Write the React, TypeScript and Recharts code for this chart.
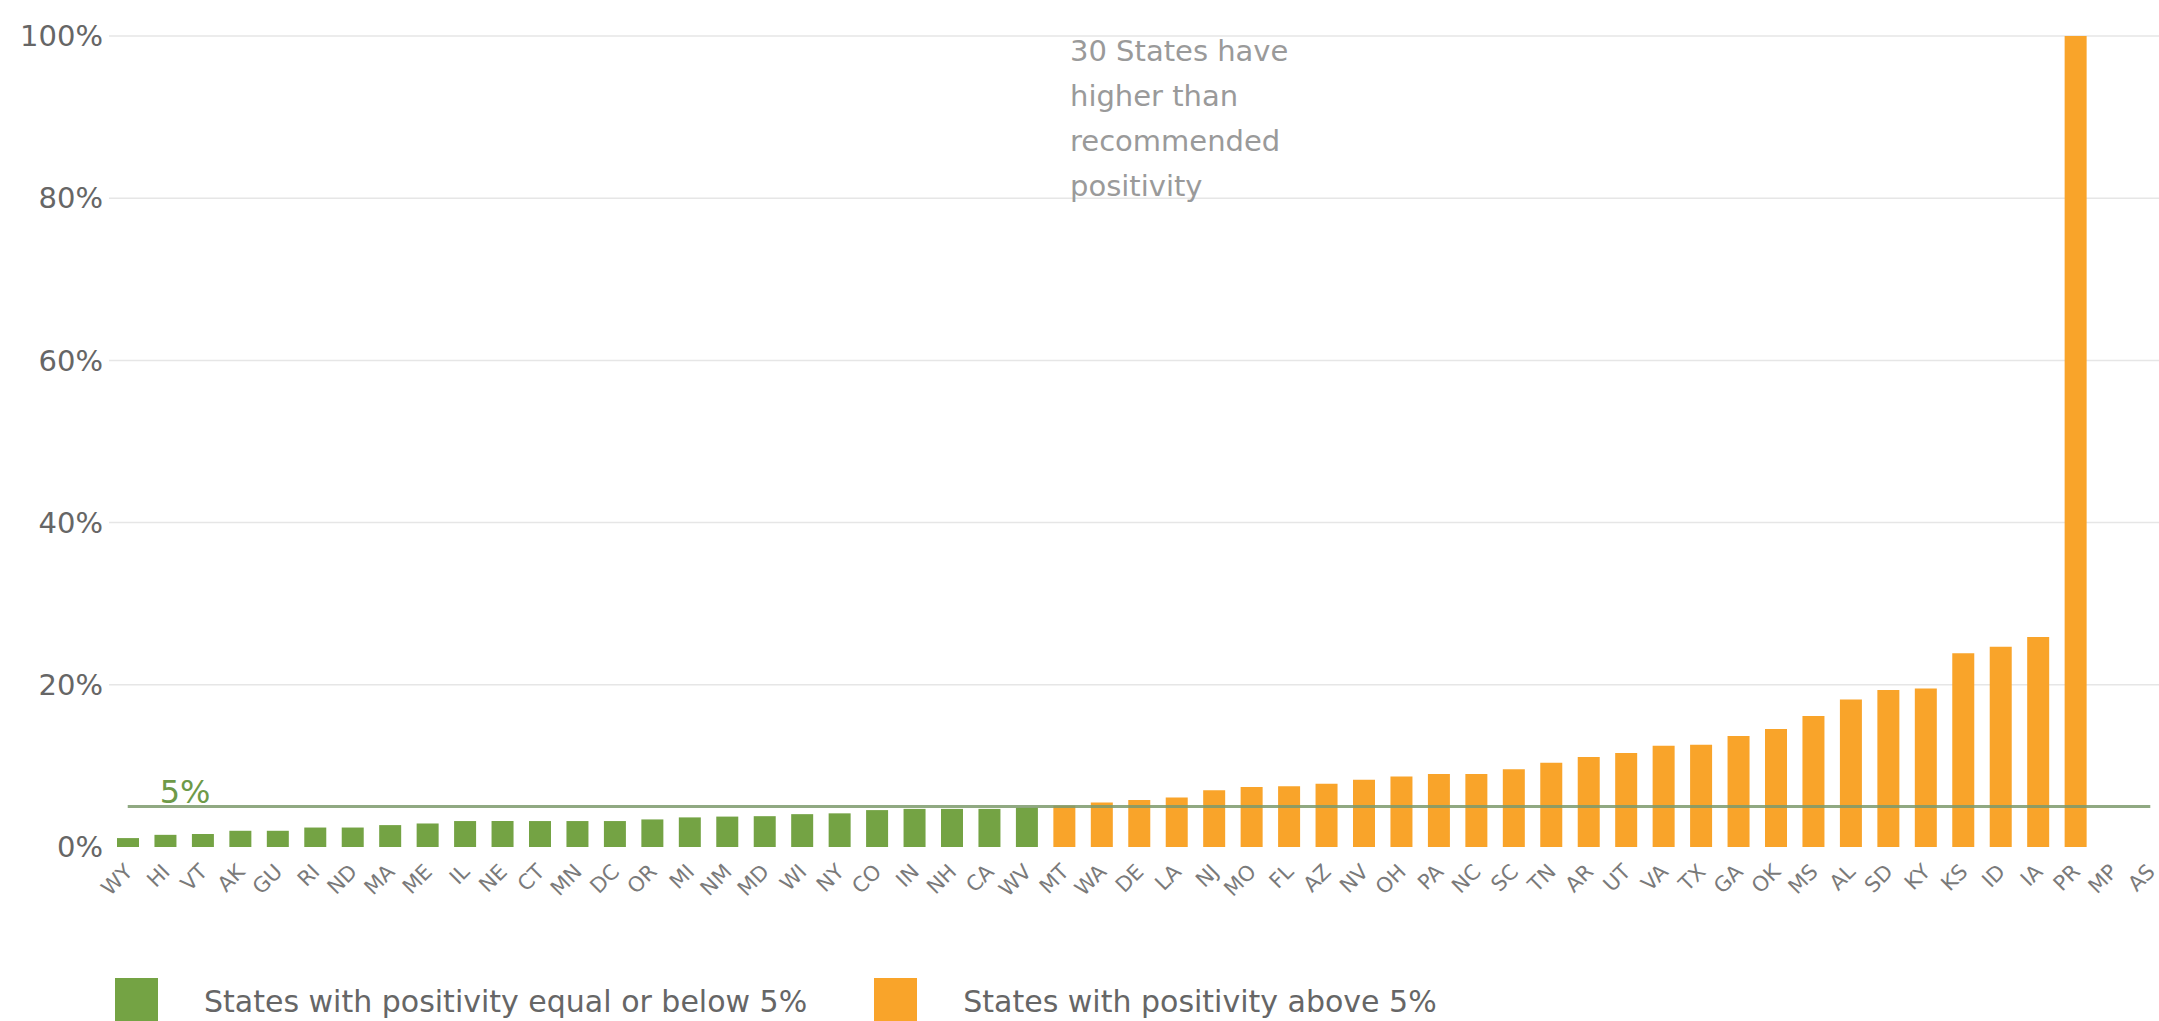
import { BarChart, Bar, XAxis, YAxis, CartesianGrid, ReferenceLine, Legend, Customized } from "recharts";

const STATES = [
  "WY", "HI", "VT", "AK", "GU", "RI", "ND", "MA", "ME", "IL", "NE", "CT", "MN", "DC",
  "OR", "MI", "NM", "MD", "WI", "NY", "CO", "IN", "NH", "CA", "WV", "MT", "WA", "DE",
  "LA", "NJ", "MO", "FL", "AZ", "NV", "OH", "PA", "NC", "SC", "TN", "AR", "UT", "VA",
  "TX", "GA", "OK", "MS", "AL", "SD", "KY", "KS", "ID", "IA", "PR", "MP", "AS",
];

// test positivity in % (MP and AS have no bar)
const POSITIVITY: (number | null)[] = [
  1.1, 1.5, 1.6, 2.0, 2.0, 2.4, 2.4, 2.7, 2.9, 3.2, 3.2, 3.2, 3.2, 3.2,
  3.4, 3.65, 3.75, 3.8, 4.05, 4.15, 4.55, 4.7, 4.7, 4.7, 4.85, 5.1, 5.5, 5.8,
  6.1, 7.0, 7.4, 7.5, 7.8, 8.3, 8.7, 9.0, 9.0, 9.6, 10.4, 11.1, 11.6, 12.5,
  12.6, 13.7, 14.55, 16.15, 18.2, 19.35, 19.55, 23.9, 24.7, 25.9, 100, null, null,
];

const Y_TICKS = [0, 20, 40, 60, 80, 100];
const THRESHOLD = 5;
const NOTE_LINES = ["30 States have", "higher than", "recommended", "positivity"];
const SERIES_ORDER = ["low", "high"];

const GREEN = "#74a344";
const ORANGE = "#f9a42a";
const FONT = "DejaVu Sans";

const data = STATES.map((state, i) => {
  const v = POSITIVITY[i];
  return {
    state,
    low: v != null && v <= THRESHOLD ? v : null,
    high: v != null && v > THRESHOLD ? v : null,
  };
});

const StateTick = (props: any) => {
  const { x, y, payload } = props;
  const ax = x + 6;
  const ay = y + 18;
  return (
    <text
      x={ax}
      y={ay}
      transform={`rotate(-45 ${ax} ${ay})`}
      textAnchor="end"
      fontFamily={FONT}
      fontSize={21}
      fill="#7a7a7a"
    >
      {payload.value}
    </text>
  );
};

const LegendBox = (props: any) => {
  const items = [...(props.payload || [])].sort(
    (a: any, b: any) => SERIES_ORDER.indexOf(a.dataKey) - SERIES_ORDER.indexOf(b.dataKey)
  );
  return (
    <div style={{ display: "flex", alignItems: "center", fontFamily: FONT, fontSize: 30, color: "#666" }}>
      {items.map((it: any, i: number) => (
        <div key={i} style={{ display: "flex", alignItems: "center", marginLeft: i === 0 ? 115 : 67 }}>
          <span style={{ display: "inline-block", width: 43, height: 46, background: it.color }} />
          <span style={{ marginLeft: 46 }}>{it.value}</span>
        </div>
      ))}
    </div>
  );
};

const Note = () => (
  <text x={1070} y={61} fontFamily={FONT} fontSize={29} fill="#9a9a9a">
    {NOTE_LINES.map((line, i) => (
      <tspan key={i} x={1070} dy={i === 0 ? 0 : 45}>
        {line}
      </tspan>
    ))}
  </text>
);

export default function App() {
  return (
    <div style={{ position: "absolute", left: 0, top: 0, width: 2159, height: 1021, overflow: "hidden", background: "#fff" }}>
      <BarChart width={2169} height={1021} data={data} margin={{ top: 36, right: 0, bottom: 0, left: 0 }}>
        <CartesianGrid vertical={false} horizontalValues={[20, 40, 60, 80, 100]} stroke="#e6e6e6" strokeWidth={1.5} />
        <XAxis
          dataKey="state"
          interval={0}
          height={174}
          axisLine={false}
          tickLine={false}
          tick={<StateTick />}
        />
        <YAxis
          width={109}
          domain={[0, 100]}
          ticks={Y_TICKS}
          tickFormatter={(v) => `${v}%`}
          axisLine={false}
          tickLine={false}
          tickSize={6}
          tickMargin={0}
          tick={{ fontFamily: FONT, fontSize: 29, fill: "#666" }}
        />
        <Bar
          dataKey="low"
          name="States with positivity equal or below 5%"
          stackId="s"
          fill={GREEN}
          barSize={22}
          isAnimationActive={false}
        />
        <Bar
          dataKey="high"
          name="States with positivity above 5%"
          stackId="s"
          fill={ORANGE}
          barSize={22}
          isAnimationActive={false}
        />
        <ReferenceLine
          segment={[{ x: "WY", y: THRESHOLD }, { x: "AS", y: THRESHOLD }]}
          stroke="#7d9a6c"
          strokeOpacity={0.85}
          strokeWidth={3}
          label={(p: any) => (
            <text x={p.viewBox.x + 32} y={p.viewBox.y - 3} fontFamily={FONT} fontSize={32} fill="#6e9a48">
              5%
            </text>
          )}
        />
        <Customized component={Note} />
        <Legend
          layout="horizontal"
          verticalAlign="middle"
          align="center"
          wrapperStyle={{ top: 978, left: 0, width: 2159 }}
          content={<LegendBox />}
        />
      </BarChart>
    </div>
  );
}
